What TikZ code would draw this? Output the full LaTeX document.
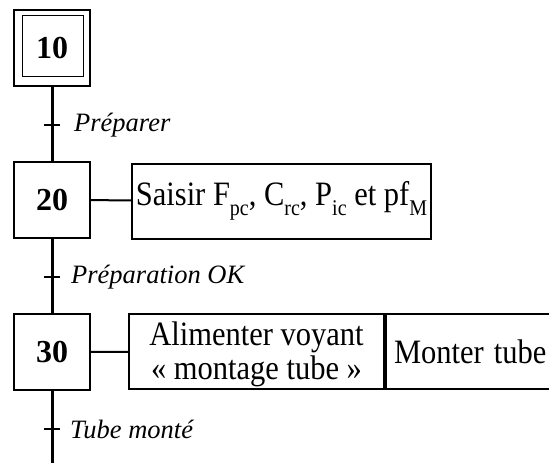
\documentclass[tikz,border=0pt]{standalone}
\usepackage{graphicx}
\usepackage{fontspec}
\setmainfont{Liberation Serif}
\newcommand{\indice}[1]{\raisebox{-9pt}{\fontsize{20}{20}\selectfont #1}}
\newcommand{\haut}[1]{\scalebox{1}[1.12]{#1}}
\begin{document}
\begin{tikzpicture}[x=1pt,y=-1pt,
    etape/.style={draw,line width=2pt,minimum width=76pt,minimum height=76pt,
      inner sep=0pt,font=\fontsize{32}{32}\selectfont\bfseries},
    action/.style={draw,line width=2pt,minimum height=75pt,inner sep=2pt,
      font=\fontsize{30.5}{38}\selectfont},
    liaison/.style={line width=3pt},
    recept/.style={line width=2.4pt},
    recepttxt/.style={anchor=west,inner sep=0pt,font=\fontsize{26.5}{30}\selectfont\itshape}]
  \useasboundingbox (0,0) rectangle (549,463);
  % etapes
  \node[etape] (10) at (52,48) {10};
  \node[draw,line width=1pt,minimum width=61pt,minimum height=61pt] (10i) at (53,46) {};
  \node[etape] (20) at (52,200) {20};
  \node[etape] (30) at (52,352) {30};
  \coordinate (fin) at (52,463);
  % receptivites
  \coordinate (t1) at (52,125);
  \coordinate (t2) at (52,277);
  \coordinate (t3) at (52,429);
  \begin{scope}[liaison]
    \draw (10) to (20);
    \draw (20) to (30);
    \draw (30) to (fin);
  \end{scope}
  \begin{scope}[recept]
    \draw (t1) +(-8,0) -- +(8,0);
    \draw (t2) +(-8,0) -- +(8,0);
    \draw (t3) +(-8,0) -- +(8,0);
  \end{scope}
  \node[recepttxt] (r1) at ([xshift=22pt]t1) {Préparer};
  \node[recepttxt] (r2) at ([xshift=19pt]t2) {Préparation OK};
  \node[recepttxt] (r3) at ([xshift=18pt]t3) {Tube monté};
  % actions
  \node[action,anchor=west,minimum width=299pt,inner sep=1pt] (a20) at (131,201)
    {\haut{Saisir F\indice{pc}, C\indice{rc}, P\indice{ic} et pf\indice{M}}};
  \node[action,anchor=west,minimum width=255pt] (a30) at (128,351.5)
    {\def\arraystretch{0.92}%
     \raisebox{-4pt}[\height][\depth]{\begin{tabular}{@{}c@{}}
       \haut{Alimenter voyant}\\ \haut{« montage tube »}
     \end{tabular}}};
  \node[action,anchor=west,text width=190pt,align=left,inner sep=8pt] (a30b) at (a30.east)
    {\haut{Monter tube}};
  \begin{scope}[line width=2pt]
    \draw (20) to (a20);
    \draw (30) to (a30);
  \end{scope}
\end{tikzpicture}
\end{document}
